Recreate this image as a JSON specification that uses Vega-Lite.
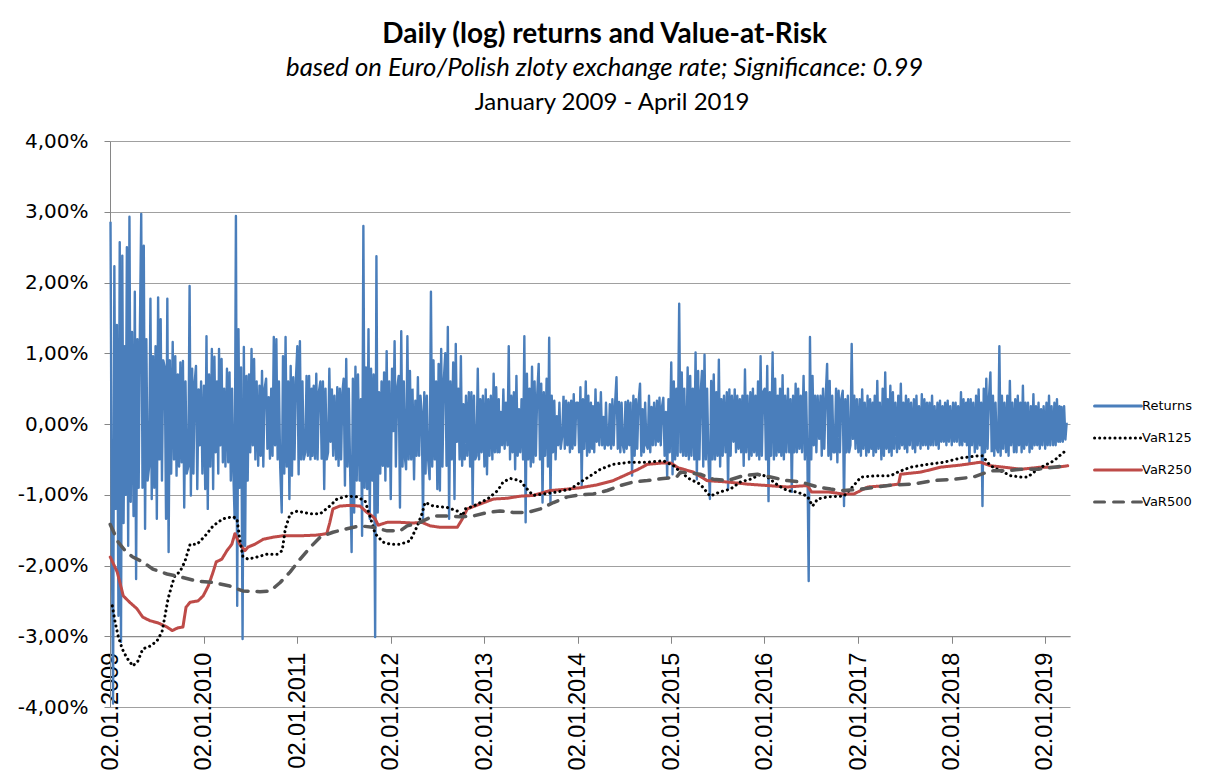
{
"$schema": "https://vega.github.io/schema/vega-lite/v6.json",
"background": "white",
"padding": {"left": 17, "top": 21, "right": 5, "bottom": 5},
"title": {"text": "Daily (log) returns and Value-at-Risk", "subtitle": "based on Euro/Polish zloty exchange rate; Significance: 0.99", "anchor": "middle", "font": "Lato", "fontSize": 28, "fontWeight": "bold", "color": "black", "subtitleFont": "Lato", "subtitleFontSize": 25.7, "subtitleFontStyle": "italic", "subtitleColor": "black", "subtitlePadding": 7, "offset": 10},
"datasets": {
"ret": [
{"d":"2009-01-03","Returns":2.86},{"d":"2009-01-08","Returns":-1.5},{"d":"2009-01-13","Returns":-3.95},{"d":"2009-01-18","Returns":2.23},{"d":"2009-01-23","Returns":-1.2},{"d":"2009-01-28","Returns":1.4},
{"d":"2009-02-03","Returns":-2.71},{"d":"2009-02-08","Returns":2.57},{"d":"2009-02-13","Returns":-3.08},{"d":"2009-02-18","Returns":2.38},{"d":"2009-02-23","Returns":-1.4},{"d":"2009-02-28","Returns":1.1},
{"d":"2009-03-03","Returns":-1.0},{"d":"2009-03-08","Returns":2.5},{"d":"2009-03-13","Returns":-1.72},{"d":"2009-03-18","Returns":2.93},{"d":"2009-03-23","Returns":-1.1},{"d":"2009-03-28","Returns":1.3},
{"d":"2009-04-03","Returns":-1.3},{"d":"2009-04-08","Returns":1.87},{"d":"2009-04-13","Returns":-2.19},{"d":"2009-04-18","Returns":1.2},{"d":"2009-04-23","Returns":-0.9},{"d":"2009-04-28","Returns":1.4},
{"d":"2009-05-03","Returns":2.97},{"d":"2009-05-08","Returns":-0.9},{"d":"2009-05-13","Returns":2.52},{"d":"2009-05-18","Returns":-1.48},{"d":"2009-05-23","Returns":1.2},{"d":"2009-05-28","Returns":-0.8},
{"d":"2009-06-03","Returns":-0.6},{"d":"2009-06-08","Returns":1.77},{"d":"2009-06-13","Returns":-1.06},{"d":"2009-06-18","Returns":0.96},{"d":"2009-06-23","Returns":-0.9},{"d":"2009-06-28","Returns":1.1},
{"d":"2009-07-03","Returns":-1.34},{"d":"2009-07-08","Returns":1.79},{"d":"2009-07-13","Returns":-0.5},{"d":"2009-07-18","Returns":1.48},{"d":"2009-07-23","Returns":-0.8},{"d":"2009-07-28","Returns":0.9},
{"d":"2009-08-03","Returns":0.8},{"d":"2009-08-08","Returns":-1.34},{"d":"2009-08-13","Returns":1.77},{"d":"2009-08-18","Returns":-1.81},{"d":"2009-08-23","Returns":0.9},{"d":"2009-08-28","Returns":-0.7},
{"d":"2009-09-03","Returns":1.16},{"d":"2009-09-08","Returns":-0.5},{"d":"2009-09-13","Returns":0.96},{"d":"2009-09-18","Returns":-0.73},{"d":"2009-09-23","Returns":0.7},{"d":"2009-09-28","Returns":-0.6},
{"d":"2009-10-03","Returns":0.87},{"d":"2009-10-08","Returns":-0.54},{"d":"2009-10-13","Returns":0.89},{"d":"2009-10-18","Returns":-1.18},{"d":"2009-10-23","Returns":0.6},{"d":"2009-10-28","Returns":-0.7},
{"d":"2009-11-03","Returns":-0.6},{"d":"2009-11-08","Returns":1.95},{"d":"2009-11-13","Returns":-1.01},{"d":"2009-11-18","Returns":0.78},{"d":"2009-11-23","Returns":-0.7},{"d":"2009-11-28","Returns":0.6},
{"d":"2009-12-03","Returns":0.82},{"d":"2009-12-08","Returns":-0.92},{"d":"2009-12-13","Returns":0.49},{"d":"2009-12-18","Returns":-0.3},{"d":"2009-12-23","Returns":0.6},{"d":"2009-12-28","Returns":-0.7},
{"d":"2010-01-03","Returns":0.54},{"d":"2010-01-08","Returns":-0.92},{"d":"2010-01-13","Returns":1.24},{"d":"2010-01-18","Returns":-1.2},{"d":"2010-01-23","Returns":0.7},{"d":"2010-01-28","Returns":-0.6},
{"d":"2010-02-03","Returns":1.06},{"d":"2010-02-08","Returns":-0.92},{"d":"2010-02-13","Returns":0.95},{"d":"2010-02-18","Returns":-0.4},{"d":"2010-02-23","Returns":0.6},{"d":"2010-02-28","Returns":-0.7},
{"d":"2010-03-03","Returns":1.06},{"d":"2010-03-08","Returns":-0.3},{"d":"2010-03-13","Returns":0.92},{"d":"2010-03-18","Returns":-0.54},{"d":"2010-03-23","Returns":0.5},{"d":"2010-03-28","Returns":-0.6},
{"d":"2010-04-03","Returns":0.78},{"d":"2010-04-08","Returns":-0.54},{"d":"2010-04-13","Returns":0.73},{"d":"2010-04-18","Returns":-0.8},{"d":"2010-04-23","Returns":0.5},{"d":"2010-04-28","Returns":-0.7},
{"d":"2010-05-03","Returns":-1.34},{"d":"2010-05-08","Returns":2.94},{"d":"2010-05-13","Returns":-2.57},{"d":"2010-05-18","Returns":1.34},{"d":"2010-05-23","Returns":-0.9},{"d":"2010-05-28","Returns":0.8},
{"d":"2010-06-03","Returns":-3.04},{"d":"2010-06-08","Returns":1.09},{"d":"2010-06-13","Returns":-1.72},{"d":"2010-06-18","Returns":0.68},{"d":"2010-06-23","Returns":-0.8},{"d":"2010-06-28","Returns":0.7},
{"d":"2010-07-03","Returns":-0.4},{"d":"2010-07-08","Returns":1.06},{"d":"2010-07-13","Returns":-0.3},{"d":"2010-07-18","Returns":0.92},{"d":"2010-07-23","Returns":-0.5},{"d":"2010-07-28","Returns":0.6},
{"d":"2010-08-03","Returns":-0.59},{"d":"2010-08-08","Returns":0.54},{"d":"2010-08-13","Returns":-0.45},{"d":"2010-08-18","Returns":0.75},{"d":"2010-08-23","Returns":-0.6},{"d":"2010-08-28","Returns":0.5},
{"d":"2010-09-03","Returns":0.64},{"d":"2010-09-08","Returns":-0.35},{"d":"2010-09-13","Returns":0.38},{"d":"2010-09-18","Returns":-0.49},{"d":"2010-09-23","Returns":0.5},{"d":"2010-09-28","Returns":-0.45},
{"d":"2010-10-03","Returns":1.23},{"d":"2010-10-08","Returns":-0.3},{"d":"2010-10-13","Returns":1.2},{"d":"2010-10-18","Returns":-0.5},{"d":"2010-10-23","Returns":0.6},{"d":"2010-10-28","Returns":-0.6},
{"d":"2010-11-03","Returns":-1.25},{"d":"2010-11-08","Returns":0.96},{"d":"2010-11-13","Returns":-0.7},{"d":"2010-11-18","Returns":1.23},{"d":"2010-11-23","Returns":-0.6},{"d":"2010-11-28","Returns":0.6},
{"d":"2010-12-03","Returns":-1.06},{"d":"2010-12-08","Returns":0.82},{"d":"2010-12-13","Returns":-0.73},{"d":"2010-12-18","Returns":0.66},{"d":"2010-12-23","Returns":-0.5},{"d":"2010-12-28","Returns":0.6},
{"d":"2011-01-03","Returns":1.1},{"d":"2011-01-08","Returns":-0.71},{"d":"2011-01-13","Returns":1.17},{"d":"2011-01-18","Returns":-0.5},{"d":"2011-01-23","Returns":0.6},{"d":"2011-01-28","Returns":-0.5},
{"d":"2011-02-03","Returns":-0.4},{"d":"2011-02-08","Returns":0.68},{"d":"2011-02-13","Returns":-0.45},{"d":"2011-02-18","Returns":0.68},{"d":"2011-02-23","Returns":-0.5},{"d":"2011-02-28","Returns":0.5},
{"d":"2011-03-03","Returns":-0.45},{"d":"2011-03-08","Returns":0.54},{"d":"2011-03-13","Returns":-0.49},{"d":"2011-03-18","Returns":0.71},{"d":"2011-03-23","Returns":-0.5},{"d":"2011-03-28","Returns":0.45},
{"d":"2011-04-03","Returns":0.6},{"d":"2011-04-08","Returns":-0.49},{"d":"2011-04-13","Returns":0.6},{"d":"2011-04-18","Returns":-0.92},{"d":"2011-04-23","Returns":0.5},{"d":"2011-04-28","Returns":-0.5},
{"d":"2011-05-03","Returns":-0.4},{"d":"2011-05-08","Returns":0.78},{"d":"2011-05-13","Returns":-0.25},{"d":"2011-05-18","Returns":0.49},{"d":"2011-05-23","Returns":-0.45},{"d":"2011-05-28","Returns":0.4},
{"d":"2011-06-03","Returns":-0.5},{"d":"2011-06-08","Returns":0.52},{"d":"2011-06-13","Returns":-0.59},{"d":"2011-06-18","Returns":0.5},{"d":"2011-06-23","Returns":-0.5},{"d":"2011-06-28","Returns":0.45},
{"d":"2011-07-03","Returns":0.64},{"d":"2011-07-08","Returns":-0.87},{"d":"2011-07-13","Returns":0.92},{"d":"2011-07-18","Returns":-0.6},{"d":"2011-07-23","Returns":0.5},{"d":"2011-07-28","Returns":-0.6},
{"d":"2011-08-03","Returns":-1.81},{"d":"2011-08-08","Returns":0.64},{"d":"2011-08-13","Returns":-1.25},{"d":"2011-08-18","Returns":0.81},{"d":"2011-08-23","Returns":-0.8},{"d":"2011-08-28","Returns":0.7},
{"d":"2011-09-03","Returns":-0.8},{"d":"2011-09-08","Returns":0.35},{"d":"2011-09-13","Returns":-1.58},{"d":"2011-09-18","Returns":2.8},{"d":"2011-09-23","Returns":-0.9},{"d":"2011-09-28","Returns":0.8},
{"d":"2011-10-03","Returns":-0.92},{"d":"2011-10-08","Returns":1.34},{"d":"2011-10-13","Returns":-1.34},{"d":"2011-10-18","Returns":0.78},{"d":"2011-10-23","Returns":-0.8},{"d":"2011-10-28","Returns":0.7},
{"d":"2011-11-03","Returns":-3.01},{"d":"2011-11-08","Returns":2.37},{"d":"2011-11-13","Returns":-1.25},{"d":"2011-11-18","Returns":0.45},{"d":"2011-11-23","Returns":-0.7},{"d":"2011-11-28","Returns":0.6},
{"d":"2011-12-03","Returns":-0.59},{"d":"2011-12-08","Returns":0.73},{"d":"2011-12-13","Returns":-0.8},{"d":"2011-12-18","Returns":1.03},{"d":"2011-12-23","Returns":-0.6},{"d":"2011-12-28","Returns":0.6},
{"d":"2012-01-03","Returns":-1.06},{"d":"2012-01-08","Returns":0.78},{"d":"2012-01-13","Returns":-0.1},{"d":"2012-01-18","Returns":1.17},{"d":"2012-01-23","Returns":-0.6},{"d":"2012-01-28","Returns":0.5},
{"d":"2012-02-03","Returns":0.68},{"d":"2012-02-08","Returns":-1.18},{"d":"2012-02-13","Returns":1.31},{"d":"2012-02-18","Returns":-0.6},{"d":"2012-02-23","Returns":0.6},{"d":"2012-02-28","Returns":-0.5},
{"d":"2012-03-03","Returns":-0.64},{"d":"2012-03-08","Returns":1.24},{"d":"2012-03-13","Returns":-0.5},{"d":"2012-03-18","Returns":0.75},{"d":"2012-03-23","Returns":-0.5},{"d":"2012-03-28","Returns":0.5},
{"d":"2012-04-03","Returns":-0.78},{"d":"2012-04-08","Returns":0.33},{"d":"2012-04-13","Returns":-0.45},{"d":"2012-04-18","Returns":0.66},{"d":"2012-04-23","Returns":-0.45},{"d":"2012-04-28","Returns":0.4},
{"d":"2012-05-03","Returns":0.17},{"d":"2012-05-08","Returns":-1.34},{"d":"2012-05-13","Returns":0.45},{"d":"2012-05-18","Returns":-0.7},{"d":"2012-05-23","Returns":0.4},{"d":"2012-05-28","Returns":-0.5},
{"d":"2012-06-03","Returns":-0.78},{"d":"2012-06-08","Returns":1.87},{"d":"2012-06-13","Returns":-0.6},{"d":"2012-06-18","Returns":0.9},{"d":"2012-06-23","Returns":-0.5},{"d":"2012-06-28","Returns":0.6},
{"d":"2012-07-03","Returns":-0.92},{"d":"2012-07-08","Returns":0.85},{"d":"2012-07-13","Returns":-0.94},{"d":"2012-07-18","Returns":1.06},{"d":"2012-07-23","Returns":-0.6},{"d":"2012-07-28","Returns":0.6},
{"d":"2012-08-03","Returns":1.0},{"d":"2012-08-08","Returns":-0.59},{"d":"2012-08-13","Returns":1.37},{"d":"2012-08-18","Returns":-1.34},{"d":"2012-08-23","Returns":0.6},{"d":"2012-08-28","Returns":-0.5},
{"d":"2012-09-03","Returns":0.87},{"d":"2012-09-08","Returns":-1.06},{"d":"2012-09-13","Returns":1.13},{"d":"2012-09-18","Returns":-0.25},{"d":"2012-09-23","Returns":0.5},{"d":"2012-09-28","Returns":-0.5},
{"d":"2012-10-03","Returns":0.96},{"d":"2012-10-08","Returns":-0.59},{"d":"2012-10-13","Returns":0.28},{"d":"2012-10-18","Returns":-0.5},{"d":"2012-10-23","Returns":0.4},{"d":"2012-10-28","Returns":-0.45},
{"d":"2012-11-03","Returns":0.45},{"d":"2012-11-08","Returns":-0.6},{"d":"2012-11-13","Returns":0.45},{"d":"2012-11-18","Returns":-1.13},{"d":"2012-11-23","Returns":0.4},{"d":"2012-11-28","Returns":-0.5},
{"d":"2012-12-03","Returns":-0.45},{"d":"2012-12-08","Returns":0.78},{"d":"2012-12-13","Returns":-0.5},{"d":"2012-12-18","Returns":0.35},{"d":"2012-12-23","Returns":-0.4},{"d":"2012-12-28","Returns":0.4},
{"d":"2013-01-03","Returns":-0.6},{"d":"2013-01-08","Returns":0.49},{"d":"2013-01-13","Returns":-0.71},{"d":"2013-01-18","Returns":0.35},{"d":"2013-01-23","Returns":-0.45},{"d":"2013-01-28","Returns":0.4},
{"d":"2013-02-03","Returns":-0.5},{"d":"2013-02-08","Returns":0.71},{"d":"2013-02-13","Returns":-0.4},{"d":"2013-02-18","Returns":0.52},{"d":"2013-02-23","Returns":-0.4},{"d":"2013-02-28","Returns":0.35},
{"d":"2013-03-03","Returns":-0.4},{"d":"2013-03-08","Returns":0.17},{"d":"2013-03-13","Returns":-0.3},{"d":"2013-03-18","Returns":0.49},{"d":"2013-03-23","Returns":-0.35},{"d":"2013-03-28","Returns":0.3},
{"d":"2013-04-03","Returns":-0.3},{"d":"2013-04-08","Returns":1.1},{"d":"2013-04-13","Returns":-0.5},{"d":"2013-04-18","Returns":0.4},{"d":"2013-04-23","Returns":-0.4},{"d":"2013-04-28","Returns":0.45},
{"d":"2013-05-03","Returns":-0.64},{"d":"2013-05-08","Returns":0.68},{"d":"2013-05-13","Returns":-0.45},{"d":"2013-05-18","Returns":0.21},{"d":"2013-05-23","Returns":-0.4},{"d":"2013-05-28","Returns":0.35},
{"d":"2013-06-03","Returns":-0.5},{"d":"2013-06-08","Returns":1.24},{"d":"2013-06-13","Returns":-1.39},{"d":"2013-06-18","Returns":0.71},{"d":"2013-06-23","Returns":-0.5},{"d":"2013-06-28","Returns":0.5},
{"d":"2013-07-03","Returns":-0.6},{"d":"2013-07-08","Returns":0.81},{"d":"2013-07-13","Returns":-0.54},{"d":"2013-07-18","Returns":0.6},{"d":"2013-07-23","Returns":-0.45},{"d":"2013-07-28","Returns":0.4},
{"d":"2013-08-03","Returns":0.85},{"d":"2013-08-08","Returns":-0.5},{"d":"2013-08-13","Returns":0.57},{"d":"2013-08-18","Returns":-1.11},{"d":"2013-08-23","Returns":0.45},{"d":"2013-08-28","Returns":-0.45},
{"d":"2013-09-03","Returns":0.64},{"d":"2013-09-08","Returns":-0.6},{"d":"2013-09-13","Returns":1.22},{"d":"2013-09-18","Returns":-1.11},{"d":"2013-09-23","Returns":0.4},{"d":"2013-09-28","Returns":-0.4},
{"d":"2013-10-03","Returns":0.33},{"d":"2013-10-08","Returns":-0.5},{"d":"2013-10-13","Returns":0.11},{"d":"2013-10-18","Returns":-0.3},{"d":"2013-10-23","Returns":0.3},{"d":"2013-10-28","Returns":-0.35},
{"d":"2013-11-03","Returns":-0.17},{"d":"2013-11-08","Returns":0.4},{"d":"2013-11-13","Returns":-0.35},{"d":"2013-11-18","Returns":0.33},{"d":"2013-11-23","Returns":-0.3},{"d":"2013-11-28","Returns":0.3},
{"d":"2013-12-03","Returns":-0.4},{"d":"2013-12-08","Returns":0.33},{"d":"2013-12-13","Returns":-0.35},{"d":"2013-12-18","Returns":0.42},{"d":"2013-12-23","Returns":-0.3},{"d":"2013-12-28","Returns":0.3},
{"d":"2014-01-03","Returns":0.3},{"d":"2014-01-08","Returns":-0.4},{"d":"2014-01-13","Returns":0.52},{"d":"2014-01-18","Returns":-0.87},{"d":"2014-01-23","Returns":0.35},{"d":"2014-01-28","Returns":-0.35},
{"d":"2014-02-03","Returns":0.6},{"d":"2014-02-08","Returns":-0.45},{"d":"2014-02-13","Returns":0.4},{"d":"2014-02-18","Returns":-0.4},{"d":"2014-02-23","Returns":0.3},{"d":"2014-02-28","Returns":-0.35},
{"d":"2014-03-03","Returns":0.25},{"d":"2014-03-08","Returns":-0.4},{"d":"2014-03-13","Returns":0.49},{"d":"2014-03-18","Returns":-0.25},{"d":"2014-03-23","Returns":0.3},{"d":"2014-03-28","Returns":-0.3},
{"d":"2014-04-03","Returns":0.45},{"d":"2014-04-08","Returns":-0.3},{"d":"2014-04-13","Returns":0.1},{"d":"2014-04-18","Returns":-0.35},{"d":"2014-04-23","Returns":0.3},{"d":"2014-04-28","Returns":-0.3},
{"d":"2014-05-03","Returns":-0.3},{"d":"2014-05-08","Returns":0.28},{"d":"2014-05-13","Returns":-0.35},{"d":"2014-05-18","Returns":0.35},{"d":"2014-05-23","Returns":-0.3},{"d":"2014-05-28","Returns":0.25},
{"d":"2014-06-03","Returns":0.66},{"d":"2014-06-08","Returns":-0.35},{"d":"2014-06-13","Returns":0.31},{"d":"2014-06-18","Returns":-0.4},{"d":"2014-06-23","Returns":0.3},{"d":"2014-06-28","Returns":-0.3},
{"d":"2014-07-03","Returns":-0.4},{"d":"2014-07-08","Returns":0.31},{"d":"2014-07-13","Returns":-0.35},{"d":"2014-07-18","Returns":0.33},{"d":"2014-07-23","Returns":-0.3},{"d":"2014-07-28","Returns":0.3},
{"d":"2014-08-03","Returns":-0.73},{"d":"2014-08-08","Returns":0.4},{"d":"2014-08-13","Returns":-0.45},{"d":"2014-08-18","Returns":0.35},{"d":"2014-08-23","Returns":-0.35},{"d":"2014-08-28","Returns":0.3},
{"d":"2014-09-03","Returns":0.57},{"d":"2014-09-08","Returns":-0.45},{"d":"2014-09-13","Returns":0.21},{"d":"2014-09-18","Returns":-0.4},{"d":"2014-09-23","Returns":0.3},{"d":"2014-09-28","Returns":-0.3},
{"d":"2014-10-03","Returns":-0.35},{"d":"2014-10-08","Returns":0.4},{"d":"2014-10-13","Returns":-0.4},{"d":"2014-10-18","Returns":0.24},{"d":"2014-10-23","Returns":-0.3},{"d":"2014-10-28","Returns":0.3},
{"d":"2014-11-03","Returns":-0.3},{"d":"2014-11-08","Returns":0.33},{"d":"2014-11-13","Returns":-0.25},{"d":"2014-11-18","Returns":0.37},{"d":"2014-11-23","Returns":-0.3},{"d":"2014-11-28","Returns":0.25},
{"d":"2014-12-03","Returns":0.37},{"d":"2014-12-08","Returns":-0.45},{"d":"2014-12-13","Returns":0.17},{"d":"2014-12-18","Returns":-0.75},{"d":"2014-12-23","Returns":0.35},{"d":"2014-12-28","Returns":-0.4},
{"d":"2015-01-03","Returns":0.87},{"d":"2015-01-08","Returns":-0.71},{"d":"2015-01-13","Returns":0.6},{"d":"2015-01-18","Returns":-0.5},{"d":"2015-01-23","Returns":0.5},{"d":"2015-01-28","Returns":-0.45},
{"d":"2015-02-03","Returns":1.7},{"d":"2015-02-08","Returns":-0.4},{"d":"2015-02-13","Returns":0.73},{"d":"2015-02-18","Returns":-0.45},{"d":"2015-02-23","Returns":0.5},{"d":"2015-02-28","Returns":-0.45},
{"d":"2015-03-03","Returns":-0.45},{"d":"2015-03-08","Returns":0.8},{"d":"2015-03-13","Returns":-0.5},{"d":"2015-03-18","Returns":0.68},{"d":"2015-03-23","Returns":-0.45},{"d":"2015-03-28","Returns":0.5},
{"d":"2015-04-03","Returns":-0.5},{"d":"2015-04-08","Returns":1.01},{"d":"2015-04-13","Returns":-0.78},{"d":"2015-04-18","Returns":0.75},{"d":"2015-04-23","Returns":-0.5},{"d":"2015-04-28","Returns":0.45},
{"d":"2015-05-03","Returns":0.75},{"d":"2015-05-08","Returns":-0.6},{"d":"2015-05-13","Returns":0.98},{"d":"2015-05-18","Returns":-0.5},{"d":"2015-05-23","Returns":0.5},{"d":"2015-05-28","Returns":-0.45},
{"d":"2015-06-03","Returns":-1.06},{"d":"2015-06-08","Returns":0.61},{"d":"2015-06-13","Returns":-0.5},{"d":"2015-06-18","Returns":0.7},{"d":"2015-06-23","Returns":-0.5},{"d":"2015-06-28","Returns":0.45},
{"d":"2015-07-03","Returns":-0.45},{"d":"2015-07-08","Returns":0.91},{"d":"2015-07-13","Returns":-0.6},{"d":"2015-07-18","Returns":0.35},{"d":"2015-07-23","Returns":-0.45},{"d":"2015-07-28","Returns":0.4},
{"d":"2015-08-03","Returns":-0.4},{"d":"2015-08-08","Returns":0.45},{"d":"2015-08-13","Returns":-0.92},{"d":"2015-08-18","Returns":0.49},{"d":"2015-08-23","Returns":-0.45},{"d":"2015-08-28","Returns":0.4},
{"d":"2015-09-03","Returns":-0.25},{"d":"2015-09-08","Returns":0.49},{"d":"2015-09-13","Returns":-0.4},{"d":"2015-09-18","Returns":0.4},{"d":"2015-09-23","Returns":-0.35},{"d":"2015-09-28","Returns":0.35},
{"d":"2015-10-03","Returns":-0.4},{"d":"2015-10-08","Returns":0.4},{"d":"2015-10-13","Returns":-0.59},{"d":"2015-10-18","Returns":0.77},{"d":"2015-10-23","Returns":-0.4},{"d":"2015-10-28","Returns":0.4},
{"d":"2015-11-03","Returns":-0.5},{"d":"2015-11-08","Returns":0.45},{"d":"2015-11-13","Returns":-0.45},{"d":"2015-11-18","Returns":0.5},{"d":"2015-11-23","Returns":-0.4},{"d":"2015-11-28","Returns":0.4},
{"d":"2015-12-03","Returns":-0.45},{"d":"2015-12-08","Returns":0.6},{"d":"2015-12-13","Returns":-0.5},{"d":"2015-12-18","Returns":0.96},{"d":"2015-12-23","Returns":-0.45},{"d":"2015-12-28","Returns":0.45},
{"d":"2016-01-03","Returns":0.5},{"d":"2016-01-08","Returns":-0.5},{"d":"2016-01-13","Returns":0.82},{"d":"2016-01-18","Returns":-1.09},{"d":"2016-01-23","Returns":0.45},{"d":"2016-01-28","Returns":-0.45},
{"d":"2016-02-03","Returns":1.01},{"d":"2016-02-08","Returns":-0.5},{"d":"2016-02-13","Returns":0.64},{"d":"2016-02-18","Returns":-0.45},{"d":"2016-02-23","Returns":0.4},{"d":"2016-02-28","Returns":-0.4},
{"d":"2016-03-03","Returns":0.5},{"d":"2016-03-08","Returns":-0.45},{"d":"2016-03-13","Returns":0.69},{"d":"2016-03-18","Returns":-0.5},{"d":"2016-03-23","Returns":0.4},{"d":"2016-03-28","Returns":-0.4},
{"d":"2016-04-03","Returns":0.5},{"d":"2016-04-08","Returns":-0.4},{"d":"2016-04-13","Returns":0.35},{"d":"2016-04-18","Returns":-0.96},{"d":"2016-04-23","Returns":0.4},{"d":"2016-04-28","Returns":-0.4},
{"d":"2016-05-03","Returns":0.57},{"d":"2016-05-08","Returns":-0.4},{"d":"2016-05-13","Returns":0.5},{"d":"2016-05-18","Returns":-0.35},{"d":"2016-05-23","Returns":0.4},{"d":"2016-05-28","Returns":-0.4},
{"d":"2016-06-03","Returns":0.68},{"d":"2016-06-08","Returns":-0.5},{"d":"2016-06-13","Returns":0.45},{"d":"2016-06-18","Returns":-0.5},{"d":"2016-06-23","Returns":-2.22},{"d":"2016-06-28","Returns":1.23},
{"d":"2016-07-03","Returns":-0.5},{"d":"2016-07-08","Returns":0.68},{"d":"2016-07-13","Returns":-0.3},{"d":"2016-07-18","Returns":0.4},{"d":"2016-07-23","Returns":-0.4},{"d":"2016-07-28","Returns":0.4},
{"d":"2016-08-03","Returns":-0.21},{"d":"2016-08-08","Returns":0.4},{"d":"2016-08-13","Returns":-0.45},{"d":"2016-08-18","Returns":0.5},{"d":"2016-08-23","Returns":-0.35},{"d":"2016-08-28","Returns":0.35},
{"d":"2016-09-03","Returns":0.85},{"d":"2016-09-08","Returns":-0.45},{"d":"2016-09-13","Returns":0.61},{"d":"2016-09-18","Returns":-0.5},{"d":"2016-09-23","Returns":0.4},{"d":"2016-09-28","Returns":-0.4},
{"d":"2016-10-03","Returns":-0.4},{"d":"2016-10-08","Returns":0.5},{"d":"2016-10-13","Returns":-0.54},{"d":"2016-10-18","Returns":0.47},{"d":"2016-10-23","Returns":-0.4},{"d":"2016-10-28","Returns":0.35},
{"d":"2016-11-03","Returns":0.47},{"d":"2016-11-08","Returns":-1.16},{"d":"2016-11-13","Returns":0.35},{"d":"2016-11-18","Returns":-0.4},{"d":"2016-11-23","Returns":0.4},{"d":"2016-11-28","Returns":-0.4},
{"d":"2016-12-03","Returns":-0.3},{"d":"2016-12-08","Returns":1.13},{"d":"2016-12-13","Returns":-0.21},{"d":"2016-12-18","Returns":0.4},{"d":"2016-12-23","Returns":-0.35},{"d":"2016-12-28","Returns":0.35},
{"d":"2017-01-03","Returns":-0.4},{"d":"2017-01-08","Returns":0.35},{"d":"2017-01-13","Returns":-0.45},{"d":"2017-01-18","Returns":0.49},{"d":"2017-01-23","Returns":-0.35},{"d":"2017-01-28","Returns":0.3},
{"d":"2017-02-03","Returns":-0.45},{"d":"2017-02-08","Returns":0.4},{"d":"2017-02-13","Returns":-0.4},{"d":"2017-02-18","Returns":0.35},{"d":"2017-02-23","Returns":-0.35},{"d":"2017-02-28","Returns":0.3},
{"d":"2017-03-03","Returns":-0.45},{"d":"2017-03-08","Returns":0.4},{"d":"2017-03-13","Returns":-0.4},{"d":"2017-03-18","Returns":0.61},{"d":"2017-03-23","Returns":-0.35},{"d":"2017-03-28","Returns":0.3},
{"d":"2017-04-03","Returns":-0.5},{"d":"2017-04-08","Returns":0.5},{"d":"2017-04-13","Returns":-0.45},{"d":"2017-04-18","Returns":0.73},{"d":"2017-04-23","Returns":-0.35},{"d":"2017-04-28","Returns":0.35},
{"d":"2017-05-03","Returns":-0.4},{"d":"2017-05-08","Returns":0.54},{"d":"2017-05-13","Returns":-0.45},{"d":"2017-05-18","Returns":0.45},{"d":"2017-05-23","Returns":-0.35},{"d":"2017-05-28","Returns":0.3},
{"d":"2017-06-03","Returns":-0.4},{"d":"2017-06-08","Returns":0.4},{"d":"2017-06-13","Returns":-0.35},{"d":"2017-06-18","Returns":0.57},{"d":"2017-06-23","Returns":-0.3},{"d":"2017-06-28","Returns":0.3},
{"d":"2017-07-03","Returns":-0.35},{"d":"2017-07-08","Returns":0.4},{"d":"2017-07-13","Returns":-0.4},{"d":"2017-07-18","Returns":0.35},{"d":"2017-07-23","Returns":-0.3},{"d":"2017-07-28","Returns":0.3},
{"d":"2017-08-03","Returns":-0.35},{"d":"2017-08-08","Returns":0.35},{"d":"2017-08-13","Returns":-0.4},{"d":"2017-08-18","Returns":0.4},{"d":"2017-08-23","Returns":-0.3},{"d":"2017-08-28","Returns":0.25},
{"d":"2017-09-03","Returns":-0.35},{"d":"2017-09-08","Returns":0.42},{"d":"2017-09-13","Returns":-0.3},{"d":"2017-09-18","Returns":0.35},{"d":"2017-09-23","Returns":-0.3},{"d":"2017-09-28","Returns":0.3},
{"d":"2017-10-03","Returns":-0.35},{"d":"2017-10-08","Returns":0.3},{"d":"2017-10-13","Returns":-0.3},{"d":"2017-10-18","Returns":0.4},{"d":"2017-10-23","Returns":-0.3},{"d":"2017-10-28","Returns":0.25},
{"d":"2017-11-03","Returns":-0.3},{"d":"2017-11-08","Returns":0.3},{"d":"2017-11-13","Returns":-0.35},{"d":"2017-11-18","Returns":0.33},{"d":"2017-11-23","Returns":-0.25},{"d":"2017-11-28","Returns":0.25},
{"d":"2017-12-03","Returns":-0.25},{"d":"2017-12-08","Returns":0.3},{"d":"2017-12-13","Returns":-0.3},{"d":"2017-12-18","Returns":0.33},{"d":"2017-12-23","Returns":-0.25},{"d":"2017-12-28","Returns":0.25},
{"d":"2018-01-03","Returns":-0.3},{"d":"2018-01-08","Returns":0.3},{"d":"2018-01-13","Returns":-0.25},{"d":"2018-01-18","Returns":0.3},{"d":"2018-01-23","Returns":-0.25},{"d":"2018-01-28","Returns":0.25},
{"d":"2018-02-03","Returns":-0.3},{"d":"2018-02-08","Returns":0.45},{"d":"2018-02-13","Returns":-0.3},{"d":"2018-02-18","Returns":0.35},{"d":"2018-02-23","Returns":-0.25},{"d":"2018-02-28","Returns":0.3},
{"d":"2018-03-03","Returns":-0.3},{"d":"2018-03-08","Returns":0.35},{"d":"2018-03-13","Returns":-0.54},{"d":"2018-03-18","Returns":0.35},{"d":"2018-03-23","Returns":-0.3},{"d":"2018-03-28","Returns":0.3},
{"d":"2018-04-03","Returns":-0.4},{"d":"2018-04-08","Returns":0.4},{"d":"2018-04-13","Returns":-0.35},{"d":"2018-04-18","Returns":0.49},{"d":"2018-04-23","Returns":-0.3},{"d":"2018-04-28","Returns":0.3},
{"d":"2018-05-03","Returns":-1.16},{"d":"2018-05-08","Returns":0.5},{"d":"2018-05-13","Returns":-0.4},{"d":"2018-05-18","Returns":0.64},{"d":"2018-05-23","Returns":-0.35},{"d":"2018-05-28","Returns":0.35},
{"d":"2018-06-03","Returns":0.73},{"d":"2018-06-08","Returns":-0.4},{"d":"2018-06-13","Returns":0.4},{"d":"2018-06-18","Returns":-0.45},{"d":"2018-06-23","Returns":0.3},{"d":"2018-06-28","Returns":-0.35},
{"d":"2018-07-03","Returns":-0.4},{"d":"2018-07-08","Returns":1.1},{"d":"2018-07-13","Returns":-0.45},{"d":"2018-07-18","Returns":0.4},{"d":"2018-07-23","Returns":-0.35},{"d":"2018-07-28","Returns":0.3},
{"d":"2018-08-03","Returns":-0.4},{"d":"2018-08-08","Returns":0.4},{"d":"2018-08-13","Returns":-0.45},{"d":"2018-08-18","Returns":0.61},{"d":"2018-08-23","Returns":-0.3},{"d":"2018-08-28","Returns":0.3},
{"d":"2018-09-03","Returns":-0.4},{"d":"2018-09-08","Returns":0.35},{"d":"2018-09-13","Returns":-0.4},{"d":"2018-09-18","Returns":0.4},{"d":"2018-09-23","Returns":-0.3},{"d":"2018-09-28","Returns":0.3},
{"d":"2018-10-03","Returns":-0.4},{"d":"2018-10-08","Returns":0.54},{"d":"2018-10-13","Returns":-0.35},{"d":"2018-10-18","Returns":0.3},{"d":"2018-10-23","Returns":-0.3},{"d":"2018-10-28","Returns":0.3},
{"d":"2018-11-03","Returns":-0.4},{"d":"2018-11-08","Returns":0.25},{"d":"2018-11-13","Returns":-0.35},{"d":"2018-11-18","Returns":0.42},{"d":"2018-11-23","Returns":-0.3},{"d":"2018-11-28","Returns":0.25},
{"d":"2018-12-03","Returns":-0.3},{"d":"2018-12-08","Returns":0.3},{"d":"2018-12-13","Returns":-0.35},{"d":"2018-12-18","Returns":0.21},{"d":"2018-12-23","Returns":-0.3},{"d":"2018-12-28","Returns":0.25},
{"d":"2019-01-03","Returns":-0.35},{"d":"2019-01-08","Returns":0.3},{"d":"2019-01-13","Returns":-0.3},{"d":"2019-01-18","Returns":0.4},{"d":"2019-01-23","Returns":-0.3},{"d":"2019-01-28","Returns":0.25},
{"d":"2019-02-03","Returns":-0.3},{"d":"2019-02-08","Returns":0.3},{"d":"2019-02-13","Returns":-0.3},{"d":"2019-02-18","Returns":0.35},{"d":"2019-02-23","Returns":-0.25},{"d":"2019-02-28","Returns":0.25},
{"d":"2019-03-03","Returns":-0.25},{"d":"2019-03-08","Returns":0.24},{"d":"2019-03-13","Returns":-0.25},{"d":"2019-03-18","Returns":0.25},{"d":"2019-03-23","Returns":-0.22},{"d":"2019-03-28","Returns":0.02}
],
"var": [
{"d":"2009-01-02","s":"VaR250","v":-1.88},{"d":"2009-01-29","s":"VaR250","v":-2.09},{"d":"2009-02-22","s":"VaR250","v":-2.43},{"d":"2009-03-19","s":"VaR250","v":-2.52},{"d":"2009-04-16","s":"VaR250","v":-2.61},{"d":"2009-05-09","s":"VaR250","v":-2.73},{"d":"2009-06-06","s":"VaR250","v":-2.78},{"d":"2009-07-07","s":"VaR250","v":-2.81},{"d":"2009-08-12","s":"VaR250","v":-2.87},{"d":"2009-09-01","s":"VaR250","v":-2.92},{"d":"2009-09-24","s":"VaR250","v":-2.88},{"d":"2009-10-13","s":"VaR250","v":-2.87},{"d":"2009-10-25","s":"VaR250","v":-2.59},{"d":"2009-11-10","s":"VaR250","v":-2.52},{"d":"2009-12-11","s":"VaR250","v":-2.5},{"d":"2009-12-31","s":"VaR250","v":-2.43},{"d":"2010-01-20","s":"VaR250","v":-2.29},{"d":"2010-02-08","s":"VaR250","v":-2.09},{"d":"2010-02-20","s":"VaR250","v":-1.95},{"d":"2010-03-14","s":"VaR250","v":-1.91},{"d":"2010-04-03","s":"VaR250","v":-1.79},{"d":"2010-04-22","s":"VaR250","v":-1.7},{"d":"2010-05-04","s":"VaR250","v":-1.55},{"d":"2010-05-23","s":"VaR250","v":-1.7},{"d":"2010-06-12","s":"VaR250","v":-1.79},{"d":"2010-06-24","s":"VaR250","v":-1.74},{"d":"2010-07-21","s":"VaR250","v":-1.7},{"d":"2010-08-22","s":"VaR250","v":-1.63},{"d":"2010-09-30","s":"VaR250","v":-1.6},{"d":"2010-11-08","s":"VaR250","v":-1.58},{"d":"2011-01-14","s":"VaR250","v":-1.58},{"d":"2011-03-20","s":"VaR250","v":-1.57},{"d":"2011-04-28","s":"VaR250","v":-1.55},{"d":"2011-05-10","s":"VaR250","v":-1.39},{"d":"2011-05-22","s":"VaR250","v":-1.2},{"d":"2011-06-18","s":"VaR250","v":-1.16},{"d":"2011-07-27","s":"VaR250","v":-1.15},{"d":"2011-09-05","s":"VaR250","v":-1.16},{"d":"2011-10-02","s":"VaR250","v":-1.25},{"d":"2011-10-22","s":"VaR250","v":-1.3},{"d":"2011-11-03","s":"VaR250","v":-1.34},{"d":"2011-11-15","s":"VaR250","v":-1.43},{"d":"2011-12-20","s":"VaR250","v":-1.39},{"d":"2012-02-09","s":"VaR250","v":-1.39},{"d":"2012-03-30","s":"VaR250","v":-1.4},{"d":"2012-05-04","s":"VaR250","v":-1.39},{"d":"2012-06-05","s":"VaR250","v":-1.44},{"d":"2012-07-14","s":"VaR250","v":-1.46},{"d":"2012-09-19","s":"VaR250","v":-1.46},{"d":"2012-10-09","s":"VaR250","v":-1.34},{"d":"2012-10-28","s":"VaR250","v":-1.2},{"d":"2012-12-18","s":"VaR250","v":-1.13},{"d":"2013-02-08","s":"VaR250","v":-1.06},{"d":"2013-04-02","s":"VaR250","v":-1.05},{"d":"2013-05-22","s":"VaR250","v":-1.02},{"d":"2013-07-12","s":"VaR250","v":-1.01},{"d":"2013-09-18","s":"VaR250","v":-0.94},{"d":"2013-11-23","s":"VaR250","v":-0.92},{"d":"2014-01-14","s":"VaR250","v":-0.9},{"d":"2014-03-20","s":"VaR250","v":-0.86},{"d":"2014-05-21","s":"VaR250","v":-0.8},{"d":"2014-07-15","s":"VaR250","v":-0.71},{"d":"2014-08-27","s":"VaR250","v":-0.64},{"d":"2014-10-02","s":"VaR250","v":-0.57},{"d":"2014-12-03","s":"VaR250","v":-0.55},{"d":"2014-12-31","s":"VaR250","v":-0.55},{"d":"2015-01-31","s":"VaR250","v":-0.62},{"d":"2015-03-30","s":"VaR250","v":-0.68},{"d":"2015-05-23","s":"VaR250","v":-0.8},{"d":"2015-08-10","s":"VaR250","v":-0.82},{"d":"2015-10-28","s":"VaR250","v":-0.85},{"d":"2016-01-14","s":"VaR250","v":-0.87},{"d":"2016-03-31","s":"VaR250","v":-0.89},{"d":"2016-06-18","s":"VaR250","v":-0.87},{"d":"2016-07-04","s":"VaR250","v":-0.96},{"d":"2016-09-05","s":"VaR250","v":-0.96},{"d":"2016-11-07","s":"VaR250","v":-0.99},{"d":"2016-12-16","s":"VaR250","v":-0.99},{"d":"2017-02-09","s":"VaR250","v":-0.89},{"d":"2017-04-27","s":"VaR250","v":-0.87},{"d":"2017-06-09","s":"VaR250","v":-0.85},{"d":"2017-06-17","s":"VaR250","v":-0.71},{"d":"2017-09-04","s":"VaR250","v":-0.68},{"d":"2017-11-21","s":"VaR250","v":-0.61},{"d":"2018-02-08","s":"VaR250","v":-0.58},{"d":"2018-04-25","s":"VaR250","v":-0.54},{"d":"2018-06-03","s":"VaR250","v":-0.59},{"d":"2018-07-24","s":"VaR250","v":-0.61},{"d":"2018-09-30","s":"VaR250","v":-0.64},{"d":"2018-12-17","s":"VaR250","v":-0.61},{"d":"2019-02-22","s":"VaR250","v":-0.61},{"d":"2019-04-01","s":"VaR250","v":-0.59},
{"d":"2009-01-10","s":"VaR125","v":-2.57},{"d":"2009-01-21","s":"VaR125","v":-2.8},{"d":"2009-02-02","s":"VaR125","v":-3.0},{"d":"2009-02-18","s":"VaR125","v":-3.18},{"d":"2009-03-07","s":"VaR125","v":-3.3},{"d":"2009-03-31","s":"VaR125","v":-3.42},{"d":"2009-04-20","s":"VaR125","v":-3.35},{"d":"2009-05-09","s":"VaR125","v":-3.18},{"d":"2009-06-06","s":"VaR125","v":-3.14},{"d":"2009-07-03","s":"VaR125","v":-3.07},{"d":"2009-07-23","s":"VaR125","v":-2.94},{"d":"2009-08-04","s":"VaR125","v":-2.71},{"d":"2009-08-16","s":"VaR125","v":-2.47},{"d":"2009-09-01","s":"VaR125","v":-2.26},{"d":"2009-09-12","s":"VaR125","v":-2.14},{"d":"2009-10-01","s":"VaR125","v":-2.09},{"d":"2009-10-21","s":"VaR125","v":-1.94},{"d":"2009-11-10","s":"VaR125","v":-1.7},{"d":"2009-12-07","s":"VaR125","v":-1.7},{"d":"2010-01-08","s":"VaR125","v":-1.58},{"d":"2010-02-08","s":"VaR125","v":-1.44},{"d":"2010-03-18","s":"VaR125","v":-1.34},{"d":"2010-04-26","s":"VaR125","v":-1.31},{"d":"2010-05-12","s":"VaR125","v":-1.34},{"d":"2010-05-23","s":"VaR125","v":-1.63},{"d":"2010-06-04","s":"VaR125","v":-1.87},{"d":"2010-06-24","s":"VaR125","v":-1.91},{"d":"2010-07-29","s":"VaR125","v":-1.88},{"d":"2010-09-07","s":"VaR125","v":-1.84},{"d":"2010-10-16","s":"VaR125","v":-1.84},{"d":"2010-11-05","s":"VaR125","v":-1.79},{"d":"2010-11-17","s":"VaR125","v":-1.48},{"d":"2010-12-06","s":"VaR125","v":-1.27},{"d":"2011-01-03","s":"VaR125","v":-1.23},{"d":"2011-02-23","s":"VaR125","v":-1.27},{"d":"2011-04-02","s":"VaR125","v":-1.27},{"d":"2011-05-10","s":"VaR125","v":-1.16},{"d":"2011-06-07","s":"VaR125","v":-1.06},{"d":"2011-07-16","s":"VaR125","v":-1.02},{"d":"2011-08-24","s":"VaR125","v":-1.03},{"d":"2011-09-25","s":"VaR125","v":-1.09},{"d":"2011-10-14","s":"VaR125","v":-1.31},{"d":"2011-11-03","s":"VaR125","v":-1.55},{"d":"2011-12-04","s":"VaR125","v":-1.67},{"d":"2012-01-01","s":"VaR125","v":-1.7},{"d":"2012-02-09","s":"VaR125","v":-1.7},{"d":"2012-03-19","s":"VaR125","v":-1.65},{"d":"2012-04-16","s":"VaR125","v":-1.44},{"d":"2012-05-04","s":"VaR125","v":-1.27},{"d":"2012-05-16","s":"VaR125","v":-1.11},{"d":"2012-06-17","s":"VaR125","v":-1.16},{"d":"2012-08-11","s":"VaR125","v":-1.18},{"d":"2012-09-19","s":"VaR125","v":-1.23},{"d":"2012-10-09","s":"VaR125","v":-1.3},{"d":"2012-10-20","s":"VaR125","v":-1.2},{"d":"2012-11-21","s":"VaR125","v":-1.16},{"d":"2013-01-15","s":"VaR125","v":-1.06},{"d":"2013-02-24","s":"VaR125","v":-0.94},{"d":"2013-03-17","s":"VaR125","v":-0.82},{"d":"2013-04-14","s":"VaR125","v":-0.77},{"d":"2013-05-22","s":"VaR125","v":-0.8},{"d":"2013-06-19","s":"VaR125","v":-0.92},{"d":"2013-07-12","s":"VaR125","v":-1.01},{"d":"2013-08-21","s":"VaR125","v":-0.99},{"d":"2013-10-15","s":"VaR125","v":-0.96},{"d":"2013-12-05","s":"VaR125","v":-0.92},{"d":"2014-01-14","s":"VaR125","v":-0.82},{"d":"2014-02-22","s":"VaR125","v":-0.73},{"d":"2014-04-01","s":"VaR125","v":-0.64},{"d":"2014-05-21","s":"VaR125","v":-0.57},{"d":"2014-07-27","s":"VaR125","v":-0.54},{"d":"2014-10-02","s":"VaR125","v":-0.54},{"d":"2014-12-03","s":"VaR125","v":-0.52},{"d":"2015-01-12","s":"VaR125","v":-0.59},{"d":"2015-02-08","s":"VaR125","v":-0.68},{"d":"2015-03-17","s":"VaR125","v":-0.78},{"d":"2015-04-26","s":"VaR125","v":-0.85},{"d":"2015-06-04","s":"VaR125","v":-1.02},{"d":"2015-07-13","s":"VaR125","v":-0.96},{"d":"2015-08-22","s":"VaR125","v":-0.92},{"d":"2015-09-30","s":"VaR125","v":-0.82},{"d":"2015-11-09","s":"VaR125","v":-0.78},{"d":"2015-12-18","s":"VaR125","v":-0.71},{"d":"2016-01-14","s":"VaR125","v":-0.75},{"d":"2016-02-25","s":"VaR125","v":-0.87},{"d":"2016-03-31","s":"VaR125","v":-0.94},{"d":"2016-05-07","s":"VaR125","v":-0.96},{"d":"2016-06-18","s":"VaR125","v":-1.02},{"d":"2016-07-08","s":"VaR125","v":-1.16},{"d":"2016-07-28","s":"VaR125","v":-1.06},{"d":"2016-09-05","s":"VaR125","v":-1.03},{"d":"2016-11-07","s":"VaR125","v":-1.02},{"d":"2016-12-16","s":"VaR125","v":-0.87},{"d":"2017-01-13","s":"VaR125","v":-0.75},{"d":"2017-03-19","s":"VaR125","v":-0.73},{"d":"2017-05-09","s":"VaR125","v":-0.73},{"d":"2017-06-06","s":"VaR125","v":-0.68},{"d":"2017-07-26","s":"VaR125","v":-0.61},{"d":"2017-10-01","s":"VaR125","v":-0.57},{"d":"2017-12-03","s":"VaR125","v":-0.54},{"d":"2018-02-08","s":"VaR125","v":-0.48},{"d":"2018-04-14","s":"VaR125","v":-0.45},{"d":"2018-05-03","s":"VaR125","v":-0.45},{"d":"2018-06-03","s":"VaR125","v":-0.59},{"d":"2018-07-12","s":"VaR125","v":-0.66},{"d":"2018-08-21","s":"VaR125","v":-0.73},{"d":"2018-09-30","s":"VaR125","v":-0.75},{"d":"2018-10-27","s":"VaR125","v":-0.75},{"d":"2018-11-20","s":"VaR125","v":-0.68},{"d":"2018-12-29","s":"VaR125","v":-0.59},{"d":"2019-02-06","s":"VaR125","v":-0.52},{"d":"2019-03-16","s":"VaR125","v":-0.4},{"d":"2019-04-01","s":"VaR125","v":-0.38},
{"d":"2009-01-02","s":"VaR500","v":-1.42},{"d":"2009-02-02","s":"VaR500","v":-1.67},{"d":"2009-03-01","s":"VaR500","v":-1.79},{"d":"2009-03-31","s":"VaR500","v":-1.88},{"d":"2009-05-09","s":"VaR500","v":-1.95},{"d":"2009-06-17","s":"VaR500","v":-2.05},{"d":"2009-08-12","s":"VaR500","v":-2.12},{"d":"2009-10-01","s":"VaR500","v":-2.16},{"d":"2009-12-07","s":"VaR500","v":-2.22},{"d":"2010-02-08","s":"VaR500","v":-2.24},{"d":"2010-04-14","s":"VaR500","v":-2.29},{"d":"2010-06-04","s":"VaR500","v":-2.36},{"d":"2010-08-10","s":"VaR500","v":-2.37},{"d":"2010-09-19","s":"VaR500","v":-2.36},{"d":"2010-10-28","s":"VaR500","v":-2.24},{"d":"2010-12-06","s":"VaR500","v":-2.09},{"d":"2011-01-14","s":"VaR500","v":-1.91},{"d":"2011-02-23","s":"VaR500","v":-1.74},{"d":"2011-04-02","s":"VaR500","v":-1.6},{"d":"2011-05-22","s":"VaR500","v":-1.53},{"d":"2011-07-16","s":"VaR500","v":-1.48},{"d":"2011-09-05","s":"VaR500","v":-1.44},{"d":"2011-10-26","s":"VaR500","v":-1.46},{"d":"2011-12-20","s":"VaR500","v":-1.51},{"d":"2012-02-09","s":"VaR500","v":-1.51},{"d":"2012-03-07","s":"VaR500","v":-1.44},{"d":"2012-04-27","s":"VaR500","v":-1.39},{"d":"2012-06-17","s":"VaR500","v":-1.3},{"d":"2012-08-11","s":"VaR500","v":-1.3},{"d":"2012-09-30","s":"VaR500","v":-1.31},{"d":"2012-11-21","s":"VaR500","v":-1.3},{"d":"2013-01-15","s":"VaR500","v":-1.25},{"d":"2013-03-05","s":"VaR500","v":-1.23},{"d":"2013-04-25","s":"VaR500","v":-1.25},{"d":"2013-06-19","s":"VaR500","v":-1.25},{"d":"2013-08-10","s":"VaR500","v":-1.2},{"d":"2013-09-30","s":"VaR500","v":-1.11},{"d":"2013-11-23","s":"VaR500","v":-1.03},{"d":"2014-01-14","s":"VaR500","v":-1.0},{"d":"2014-03-04","s":"VaR500","v":-0.99},{"d":"2014-04-28","s":"VaR500","v":-0.94},{"d":"2014-06-18","s":"VaR500","v":-0.87},{"d":"2014-08-08","s":"VaR500","v":-0.82},{"d":"2014-10-02","s":"VaR500","v":-0.8},{"d":"2014-12-03","s":"VaR500","v":-0.77},{"d":"2015-01-24","s":"VaR500","v":-0.75},{"d":"2015-02-08","s":"VaR500","v":-0.68},{"d":"2015-04-26","s":"VaR500","v":-0.71},{"d":"2015-06-16","s":"VaR500","v":-0.78},{"d":"2015-08-10","s":"VaR500","v":-0.8},{"d":"2015-10-12","s":"VaR500","v":-0.73},{"d":"2015-12-06","s":"VaR500","v":-0.71},{"d":"2016-01-26","s":"VaR500","v":-0.75},{"d":"2016-03-31","s":"VaR500","v":-0.8},{"d":"2016-05-23","s":"VaR500","v":-0.82},{"d":"2016-07-28","s":"VaR500","v":-0.89},{"d":"2016-09-17","s":"VaR500","v":-0.92},{"d":"2016-11-07","s":"VaR500","v":-0.94},{"d":"2017-01-13","s":"VaR500","v":-0.92},{"d":"2017-03-19","s":"VaR500","v":-0.89},{"d":"2017-05-20","s":"VaR500","v":-0.86},{"d":"2017-08-07","s":"VaR500","v":-0.85},{"d":"2017-10-24","s":"VaR500","v":-0.8},{"d":"2018-01-11","s":"VaR500","v":-0.78},{"d":"2018-03-28","s":"VaR500","v":-0.75},{"d":"2018-05-22","s":"VaR500","v":-0.68},{"d":"2018-06-15","s":"VaR500","v":-0.66},{"d":"2018-08-09","s":"VaR500","v":-0.66},{"d":"2018-09-30","s":"VaR500","v":-0.64},{"d":"2018-12-05","s":"VaR500","v":-0.64},{"d":"2019-02-06","s":"VaR500","v":-0.61},{"d":"2019-04-01","s":"VaR500","v":-0.59}
]
},
"vconcat": [
{
"width": 960,
"height": 566,
"title": {"text": "January 2009 - April 2019", "font": "Lato", "fontSize": 24, "fontWeight": "normal", "color": "black", "anchor": "middle", "offset": 16, "dx": 22},
"encoding": {
"x": {"field": "d", "type": "temporal", "scale": {"type": "utc", "domain": [{"year": 2009, "month": 1, "date": 1, "utc": true}, {"year": 2019, "month": 4, "date": 10, "utc": true}]},
"axis": {"title": null, "orient": "bottom", "offset": -70.75, "grid": false, "values": [{"year": 2009, "month": 1, "date": 2, "utc": true}, {"year": 2010, "month": 1, "date": 2, "utc": true}, {"year": 2011, "month": 1, "date": 2, "utc": true}, {"year": 2012, "month": 1, "date": 2, "utc": true}, {"year": 2013, "month": 1, "date": 2, "utc": true}, {"year": 2014, "month": 1, "date": 2, "utc": true}, {"year": 2015, "month": 1, "date": 2, "utc": true}, {"year": 2016, "month": 1, "date": 2, "utc": true}, {"year": 2017, "month": 1, "date": 2, "utc": true}, {"year": 2018, "month": 1, "date": 2, "utc": true}, {"year": 2019, "month": 1, "date": 2, "utc": true}], "format": "%d.%m.%Y", "labelAngle": 270, "labelFont": "Liberation Sans", "labelFontSize": 23.5, "labelColor": "black", "labelPadding": 9, "tickSize": 7, "tickColor": "#868686", "domainColor": "#868686", "labelOverlap": false, "labelFlush": false, "labelBound": false}},
"y": {"field": "v", "type": "quantitative", "scale": {"domain": [-4, 4], "nice": false, "zero": false},
"axis": {"title": null, "values": [-4, -3, -2, -1, 0, 1, 2, 3, 4], "grid": true, "gridColor": "#a0a0a0", "gridWidth": 1, "domainColor": "#868686", "tickColor": "#868686", "tickSize": 6, "labelPadding": 16, "labelFont": "DejaVu Sans", "labelFontSize": 20, "labelColor": "black", "labelExpr": "(datum.value < 0 ? '-' : '') + replace(format(abs(datum.value), '.2f'), '.', ',') + '%'"}},
"color": {"field": "s", "type": "nominal", "scale": {"domain": ["Returns", "VaR125", "VaR250", "VaR500"], "range": ["#4a7ebb", "#000000", "#be4b48", "#595959"]},
"legend": {"title": null, "orient": "none", "legendX": 983, "legendY": 240, "symbolType": "stroke", "symbolSize": 2200, "symbolStrokeWidth": 3, "labelFont": "DejaVu Sans", "labelFontSize": 13, "labelColor": "black", "labelOffset": -1, "rowPadding": -4.4, "encode": {"symbols": {"update": {"strokeCap": {"value": "round"}}}}}},
"strokeDash": {"field": "s", "type": "nominal", "scale": {"domain": ["Returns", "VaR125", "VaR250", "VaR500"], "range": [[1, 0], [0.1, 5], [1, 0], [10, 9]]}, "legend": null}
},
"layer": [
{"data": {"name": "ret"}, "transform": [{"fold": ["Returns"], "as": ["s", "v"]}], "mark": {"type": "line", "strokeWidth": 2.4, "strokeJoin": "round"}},
{"data": {"name": "var"}, "transform": [{"filter": {"field": "s", "oneOf": ["VaR125", "VaR250"]}}], "mark": {"type": "line", "strokeWidth": 3, "strokeCap": "round", "strokeJoin": "round"}},
{"data": {"name": "var"}, "transform": [{"filter": {"field": "s", "equal": "VaR500"}}], "mark": {"type": "line", "strokeWidth": 3.5, "strokeCap": "round", "strokeJoin": "round"}}
]
}
],
"config": {"view": {"stroke": null}, "concat": {"spacing": 0}}
}
